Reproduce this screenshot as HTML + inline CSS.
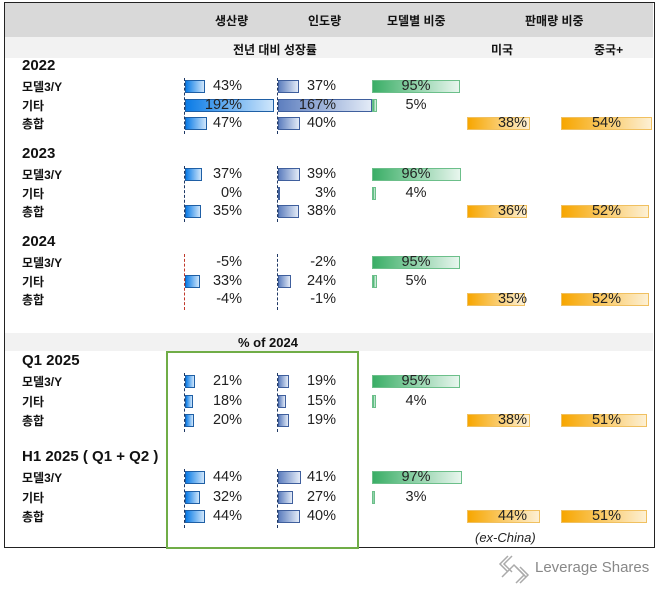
<!DOCTYPE html>
<html><head><meta charset="utf-8">
<style>
body{margin:0;width:658px;height:589px;background:#fff;position:relative;overflow:hidden;font-family:"Liberation Sans","Noto Sans CJK KR",sans-serif;}
.abs{position:absolute;}
.hdr{font-weight:bold;font-size:12px;color:#111;}
.lbl{font-size:12px;font-weight:bold;color:#111;}
.ttl{font-size:15px;font-weight:bold;color:#111;}
.val{font-size:14.5px;color:#222;white-space:nowrap;}
</style></head><body>
<div class="abs" style="left:4px;top:2px;width:649px;height:544px;border:1.5px solid #222;"></div>
<div class="abs" style="left:5px;top:3px;width:648px;height:34px;background:#d9d9d9;"></div>
<div class="abs" style="left:5px;top:37px;width:648px;height:21px;background:#f2f2f2;"></div>
<div class="abs" style="left:5px;top:333px;width:648px;height:18px;background:#f2f2f2;"></div>
<div class="abs hdr" style="left:215px;top:12px;">생산량</div>
<div class="abs hdr" style="left:308px;top:12px;">인도량</div>
<div class="abs hdr" style="left:387px;top:12px;">모델별 비중</div>
<div class="abs hdr" style="left:525px;top:12px;">판매량 비중</div>
<div class="abs hdr" style="left:233px;top:41px;">전년 대비 성장률</div>
<div class="abs hdr" style="left:491px;top:41px;">미국</div>
<div class="abs hdr" style="left:594px;top:41px;">중국+</div>
<div class="abs hdr" style="left:238px;top:335px;font-size:13px;">% of 2024</div>
<div class="abs" style="left:166px;top:351px;width:189px;height:194px;border:2px solid #70ad47;"></div>
<div class="abs" style="left:475px;top:530px;font-size:13px;font-style:italic;color:#222;">(ex-China)</div>
<div class="abs" style="left:494px;top:553px;">
<svg width="40" height="34" viewBox="0 0 40 34"><g fill="none" stroke="#aaa" stroke-width="1.5"><path d="M14 3 L6 11 L14 19"/><path d="M18 3 L10 11 L18 19"/><path d="M22 14 L30 22 L22 30"/><path d="M26 14 L34 22 L26 30"/><path d="M8 24 L20 12 L32 24"/></g></svg></div>
<div class="abs" style="left:535px;top:559px;font-size:15px;color:#888;">Leverage Shares</div>
<div id="rows"></div>
<script>
const sectionTitles=["2022","2023","2024","Q1 2025","H1 2025 ( Q1 + Q2 )"];
const rowLabels=["모델3/Y","기타","총합"];
const production=[[43,192,47],[37,0,35],[-5,33,-4],[21,18,20],[44,32,44]];
const delivery=[[37,167,40],[39,3,38],[-2,24,-1],[19,15,19],[41,27,40]];
const modelShare=[[95,5],[96,4],[95,5],[95,4],[97,3]];
const usShare=[38,36,35,38,44];
const chinaShare=[54,52,52,51,51];

const titleY=[67,155,243,362,458];
const root=document.getElementById('rows');
function mk(cls,style,text,name){const d=document.createElement('div');d.className='abs '+cls;d.style.cssText=style;if(text!==undefined)d.textContent=text;


root.appendChild(d);return d;}
const pX=v=>Math.max(0,v)*0.465, dX=v=>Math.max(0,v)*0.56, mX=v=>v*0.93, uX=v=>v*1.66, cX=v=>v*1.69;
sectionTitles.forEach((t,s)=>{
  const ty=titleY[s];
  mk('ttl',`left:22px;top:${ty-10}px;`,t,'section-title');
  const r0=ty+19, step=s>=3?19.5:18.5;
  const neg=s===2;
  mk('',`left:184px;top:${r0-8}px;height:${step*3}px;border-left:1.5px dashed ${neg?'#c0392b':'#1f3864'};`,undefined,'production-axis');
  mk('',`left:277px;top:${r0-8}px;height:${step*3}px;border-left:1.5px dashed #1f3864;`,undefined,'delivery-axis');
  rowLabels.forEach((l,i)=>{
    const y=r0+i*step;
    mk('lbl',`left:22px;top:${y-8}px;`,l,'row-label');
    const pv=production[s][i], dv=delivery[s][i];
    if(pv>0) mk('',`left:185px;top:${y-6}px;width:${pX(pv)}px;height:13px;background:linear-gradient(90deg,#0a7be6,#cfe6fb);border:1px solid #1f5fa5;box-sizing:border-box;`,undefined,'production-bar');
    mk('val',`left:172px;width:70px;text-align:right;top:${y-8}px;`,pv+'%','production-value');
    if(dv>0) mk('',`left:278px;top:${y-6}px;width:${dX(dv)}px;height:13px;background:linear-gradient(90deg,#5e7fbf,#e3ebf7);border:1px solid #3f5f9d;box-sizing:border-box;`,undefined,'delivery-bar');
    mk('val',`left:266px;width:70px;text-align:right;top:${y-8}px;`,dv+'%','delivery-value');
    if(i<2){const mv=modelShare[s][i];
      mk('',`left:372px;top:${y-6}px;width:${mX(mv)}px;height:13px;background:linear-gradient(90deg,#3aae66,#e8f6ee);border:1px solid #6cbf8a;box-sizing:border-box;`,undefined,'model-share-bar');
      mk('val',`left:381px;width:70px;text-align:center;top:${y-8}px;`,mv+'%','model-share-value');}
    if(i===2){
      mk('',`left:467px;top:${y-6}px;width:${uX(usShare[s])}px;height:13px;background:linear-gradient(90deg,#f7a600,#fdf0d4);border:1px solid #f0c060;box-sizing:border-box;`,undefined,'us-share-bar');
      mk('val',`left:457px;width:70px;text-align:right;top:${y-8}px;`,usShare[s]+'%','us-share-value');
      mk('',`left:561px;top:${y-6}px;width:${cX(chinaShare[s])}px;height:13px;background:linear-gradient(90deg,#f7a600,#fdf0d4);border:1px solid #f0c060;box-sizing:border-box;`,undefined,'china-share-bar');
      mk('val',`left:551px;width:70px;text-align:right;top:${y-8}px;`,chinaShare[s]+'%','china-share-value');}
  });
});
</script>
</body></html>
